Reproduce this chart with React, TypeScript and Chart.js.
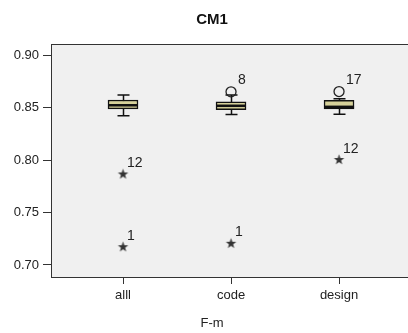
import React, { useEffect, useRef } from "react";
import { Chart, registerables } from "chart.js";

Chart.register(...registerables);

const categories = ["alll", "code", "design"];
const whiskerLow = [0.8425, 0.8436, 0.844];
const q1 = [0.849, 0.8482, 0.849];
const median = [0.8525, 0.852, 0.851];
const q3 = [0.8575, 0.8557, 0.8572];
const whiskerHigh = [0.8624, 0.8624, 0.8586];

// mild outliers (circles): category index, value, case label
const outlierCat = [2, 3];
const outlierVal = [0.8653, 0.8656];
const outlierLabel = ["8", "17"];

// extreme outliers (stars)
const extremeCat = [1, 1, 2, 3];
const extremeVal = [0.7869, 0.7174, 0.7207, 0.8007];
const extremeLabel = ["12", "1", "1", "12"];

const yTicks = [0.7, 0.75, 0.8, 0.85, 0.9];

function makeStar(): HTMLCanvasElement {
  const c = document.createElement("canvas");
  c.width = 13;
  c.height = 13;
  const g = c.getContext("2d")!;
  g.fillStyle = "#333";
  g.beginPath();
  for (let i = 0; i < 10; i++) {
    const r = i % 2 === 0 ? 5.5 : 2.2;
    const a = -Math.PI / 2 + (i * Math.PI) / 5;
    const x = 6.5 + r * Math.cos(a);
    const y = 6.8 + r * Math.sin(a);
    if (i === 0) g.moveTo(x, y);
    else g.lineTo(x, y);
  }
  g.closePath();
  g.fill();
  return c;
}

export default function App() {
  const ref = useRef<HTMLCanvasElement>(null);
  useEffect(() => {
    if (!ref.current) return;
    const star = makeStar();
    const font = "'Liberation Sans', Arial, sans-serif";

    const boxPlugin = {
      id: "boxDecor",
      beforeDraw(chart: any) {
        const { ctx, chartArea: a } = chart;
        ctx.save();
        ctx.fillStyle = "#ffffff";
        ctx.fillRect(0, 0, chart.width, chart.height);
        ctx.fillStyle = "#f0f0f0";
        ctx.fillRect(a.left, a.top, a.right - a.left, a.bottom - a.top);
        ctx.restore();
      },
      beforeDatasetsDraw(chart: any) {
        const { ctx, scales } = chart;
        const xs = scales.x, ys = scales.y;
        ctx.save();
        ctx.strokeStyle = "#111";
        ctx.lineWidth = 1.5;
        categories.forEach((_, i) => {
          const x = Math.round(xs.getPixelForValue(i + 1)) + 0.5;
          const yl = ys.getPixelForValue(whiskerLow[i]);
          const yh = ys.getPixelForValue(whiskerHigh[i]);
          ctx.beginPath();
          ctx.moveTo(x, yl);
          ctx.lineTo(x, yh);
          ctx.moveTo(x - 6, yl);
          ctx.lineTo(x + 6, yl);
          ctx.moveTo(x - 6, yh);
          ctx.lineTo(x + 6, yh);
          ctx.stroke();
        });
        ctx.restore();
      },
      afterDatasetsDraw(chart: any) {
        const { ctx, scales, chartArea: a } = chart;
        const xs = scales.x, ys = scales.y;
        ctx.save();
        ctx.strokeStyle = "#111";
        ctx.lineWidth = 2.5;
        categories.forEach((_, i) => {
          const x = xs.getPixelForValue(i + 1);
          const y = ys.getPixelForValue(median[i]);
          ctx.beginPath();
          ctx.moveTo(x - 15, y);
          ctx.lineTo(x + 15, y);
          ctx.stroke();
        });
        ctx.fillStyle = "#222";
        ctx.font = `14px ${font}`;
        ctx.textAlign = "left";
        ctx.textBaseline = "alphabetic";
        extremeCat.forEach((c, i) => {
          const x = xs.getPixelForValue(c);
          const y = ys.getPixelForValue(extremeVal[i]);
          ctx.fillText(extremeLabel[i], x + 4, y - 7);
        });
        outlierCat.forEach((c, i) => {
          const x = xs.getPixelForValue(c);
          const y = ys.getPixelForValue(outlierVal[i]);
          ctx.fillText(outlierLabel[i], x + 7, y - 8);
        });
        // frame top/right
        ctx.strokeStyle = "#333";
        ctx.lineWidth = 1;
        ctx.beginPath();
        ctx.moveTo(a.left, a.top + 0.5);
        ctx.lineTo(a.right, a.top + 0.5);
        ctx.lineTo(a.right - 0.5, a.bottom);
        ctx.stroke();
        // titles
        ctx.fillStyle = "#111";
        ctx.textAlign = "center";
        ctx.textBaseline = "middle";
        ctx.font = `bold 15px ${font}`;
        ctx.fillText("CM1", 212, 20);
        ctx.font = `13px ${font}`;
        ctx.fillStyle = "#222";
        ctx.fillText("F-m", 212, 323);
        ctx.restore();
      },
    };

    const chart = new Chart(ref.current, {
      type: "bar",
      data: {
        datasets: [
          {
            type: "bar",
            data: categories.map((_, i) => ({ x: i + 1, y: [q1[i], q3[i]] })) as any,
            backgroundColor: "#d6d19a",
            borderColor: "#111",
            borderWidth: 1.5,
            borderSkipped: false,
            barThickness: 30,
          } as any,
          {
            type: "scatter",
            data: outlierCat.map((c, i) => ({ x: c, y: outlierVal[i] })),
            pointStyle: "circle",
            pointRadius: 5,
            backgroundColor: "rgba(0,0,0,0)",
            borderColor: "#222",
            borderWidth: 1.3,
          } as any,
          {
            type: "scatter",
            data: extremeCat.map((c, i) => ({ x: c, y: extremeVal[i] })),
            pointStyle: star,
            pointRadius: 6,
          } as any,
        ],
      },
      options: {
        animation: false,
        responsive: false,
        devicePixelRatio: 1,
        layout: { padding: { top: 44, right: 14, left: 0, bottom: 0 } },
        plugins: { legend: { display: false }, tooltip: { enabled: false } },
        scales: {
          x: {
            type: "linear",
            offset: false,
            min: 0.3333,
            max: 3.657,
            afterBuildTicks: (s: any) => {
              s.ticks = categories.map((_, i) => ({ value: i + 1 }));
            },
            afterFit: (s: any) => {
              s.height = 56;
            },
            ticks: {
              callback: (v: any) => categories[Math.round(v) - 1] ?? "",
              font: { family: font, size: 13 },
              color: "#222",
              padding: 4,
              maxRotation: 0,
              autoSkip: false,
            },
            grid: { offset: false, drawOnChartArea: false, tickLength: 7, color: "#333" },
            border: { color: "#333" },
          },
          y: {
            type: "linear",
            min: 0.6885,
            max: 0.911,
            afterBuildTicks: (s: any) => {
              s.ticks = yTicks.map((v) => ({ value: v }));
            },
            afterFit: (s: any) => {
              s.width = 51;
            },
            ticks: {
              callback: (v: any) => Number(v).toFixed(2),
              font: { family: font, size: 13 },
              color: "#222",
              padding: 4,
              autoSkip: false,
            },
            grid: { drawOnChartArea: false, tickLength: 8, color: "#333" },
            border: { color: "#333" },
          },
        },
      } as any,
      plugins: [boxPlugin],
    });
    return () => chart.destroy();
  }, []);

  return (
    <div
      style={{
        position: "fixed",
        left: 0,
        top: 0,
        width: 408,
        height: 333,
        overflow: "hidden",
        background: "#fff",
      }}
    >
      <canvas ref={ref} width={424} height={333} style={{ display: "block" }} />
    </div>
  );
}
